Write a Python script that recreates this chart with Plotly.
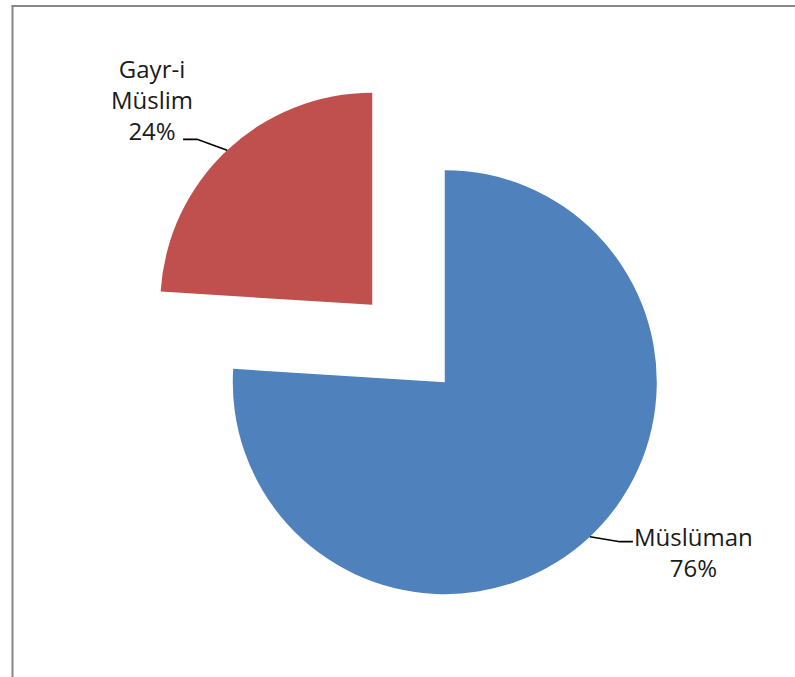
import math
import plotly.graph_objects as go

labels = ["Müslüman", "Gayr-i Müslim"]
values = [76, 24]
colors = ["#4F81BD", "#C0504D"]
pulls = [0.25, 0.25]

W, H = 795, 677
CX, CY, R = 408.5, 343.5, 212.0          # pie centre / radius in pixels
PULL = max(pulls)
HALF = R * (1 + PULL)                      # half of the pie box

# label placement (pixel offsets from the slice's outer mid-point)
leader_left = [(-30, -11), (-44, -11)]
leader_right = [(30, 5), (43, 5)]
text_off_left = (-75, -51)
text_off_right = (104, 15)
FONT = dict(family="Open Sans, Liberation Sans, sans-serif", size=24, color="#1a1a1a")


def px(x):
    return x / W


def py(y):
    return 1 - y / H


fig = go.Figure(go.Pie(
    labels=labels,
    values=values,
    sort=False,
    direction="clockwise",
    rotation=0,
    pull=pulls,
    marker=dict(colors=colors, line=dict(width=0)),
    textinfo="none",
    automargin=False,
    showlegend=False,
    domain=dict(x=[px(CX - HALF), px(CX + HALF)],
                y=[py(CY + HALF), py(CY - HALF)]),
))

total = sum(values)
shapes = [
    dict(type="line", xref="paper", yref="paper",
         x0=px(12.5), x1=px(12.5), y0=0, y1=py(5.5),
         line=dict(color="#878787", width=2)),
    dict(type="line", xref="paper", yref="paper",
         x0=px(11.5), x1=1, y0=py(6), y1=py(6),
         line=dict(color="#878787", width=2)),
]
annotations = []
cum = 0
for lab, v, p in zip(labels, values, pulls):
    theta = 2 * math.pi * (cum + v / 2) / total
    cum += v
    ax = CX + (1 + p) * R * math.sin(theta)
    ay = CY - (1 + p) * R * math.cos(theta)
    left = math.sin(theta) < 0
    leader = leader_left if left else leader_right
    toff = text_off_left if left else text_off_right
    pts = [(ax, ay)] + [(ax + dx, ay + dy) for dx, dy in leader]
    path = "M " + " L ".join(f"{px(x):.5f},{py(y):.5f}" for x, y in pts)
    shapes.append(dict(type="path", xref="paper", yref="paper", path=path,
                       line=dict(color="black", width=1.6)))
    pct = round(100 * v / total)
    annotations.append(dict(
        x=px(ax + toff[0]), y=py(ay + toff[1]), xref="paper", yref="paper",
        text=lab.replace(" ", "<br>") + f"<br>{pct}%",
        showarrow=False, align="center", xanchor="center", yanchor="middle",
        font=FONT,
    ))

fig.update_layout(
    width=W, height=H,
    margin=dict(l=0, r=0, t=0, b=0, autoexpand=False),
    paper_bgcolor="white",
    shapes=shapes,
    annotations=annotations,
)

fig.write_html("out.html", config={"displayModeBar": False},
               post_script="document.body.style.margin='0';")
